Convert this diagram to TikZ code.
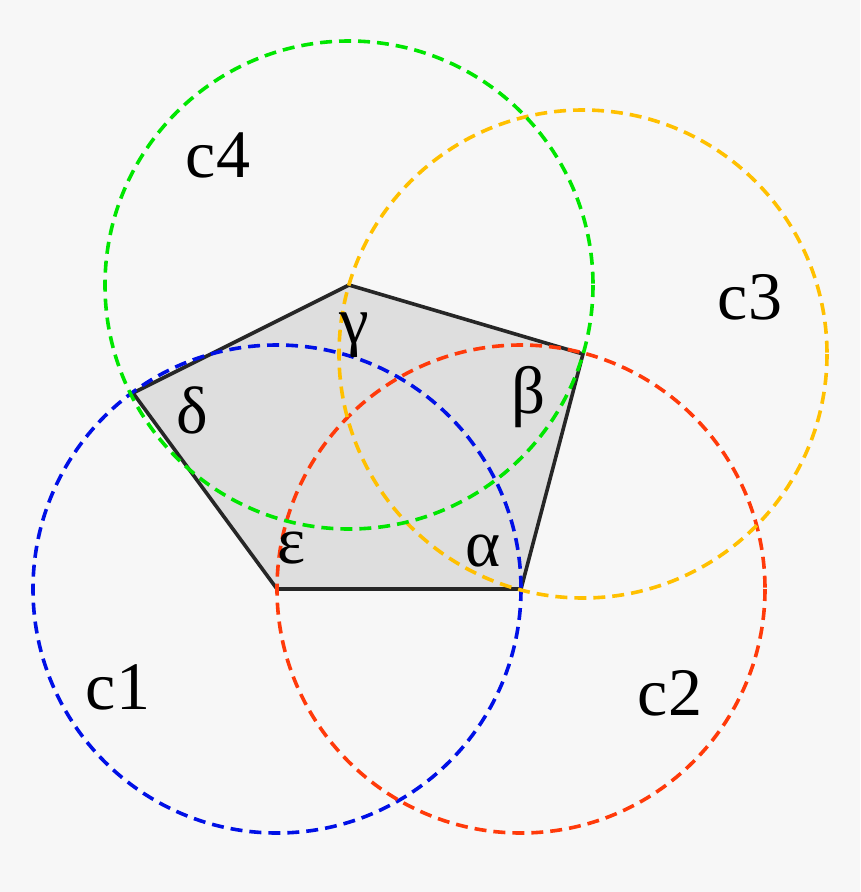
\documentclass[tikz,border=0pt]{standalone}
\usepackage{fontspec}
\newfontfamily\labfont{Liberation Serif}
\newfontfamily\grkfont{Liberation Serif}
\begin{document}
\begin{tikzpicture}[x=1pt,y=-1pt,
  circ/.style={line width=3.6pt,dash pattern=on 12pt off 7pt},
  clab/.style={font=\labfont\fontsize{68}{68}\selectfont},
  glab/.style={font=\grkfont\fontsize{67}{67}\selectfont,inner sep=0pt}]
\definecolor{bg}{HTML}{F7F7F7}
\definecolor{pfill}{HTML}{DEDEDE}
\definecolor{cblue}{HTML}{0010E6}
\definecolor{cred}{HTML}{FF3A0A}
\definecolor{cyel}{HTML}{FFC000}
\definecolor{cgreen}{HTML}{00E600}
\fill[bg] (0,0) rectangle (860,892);
\useasboundingbox (0,0) rectangle (860,892);
\coordinate (E) at (277,589);
\coordinate (A) at (521,589);
\coordinate (B) at (583,354);
\coordinate (G) at (349,285);
\coordinate (D) at (133,393);
\draw[fill=pfill,draw=black!85,line width=3.6pt,line join=miter] (E) -- (A) -- (B) -- (G) -- (D) -- cycle;
\draw[circ,cblue] (E) circle[radius=244];
\draw[circ,cred] (A) circle[radius=244];
\draw[circ,cyel] (B) circle[radius=244];
\draw[circ,cgreen] (G) circle[radius=244];
\node[clab] (l4) at (218,155) {c4};
\node[clab] (l3) at (750,297) {c3};
\node[clab] (l1) at (118,687) {c1};
\node[clab] (l2) at (670,693) {c2};
\node[glab] (g) at (354,335) {γ};
\node[glab] (b) at (529,397) {β};
\node[glab] (d) at (192,410) {δ};
\node[glab] (e) at (292,548) {ε};
\node[glab] (a) at (483,551) {α};
\end{tikzpicture}
\end{document}
